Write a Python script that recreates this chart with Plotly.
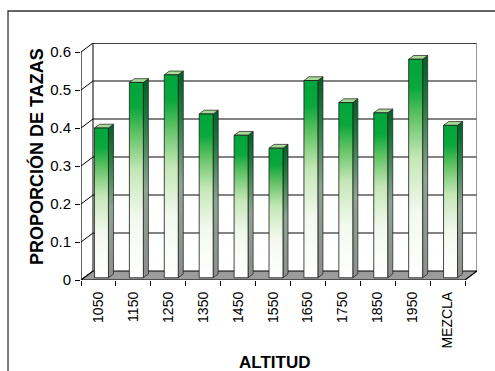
import plotly.graph_objects as go

# Data: proportion of cups by altitude group
categorias = ["1050", "1150", "1250", "1350", "1450", "1550",
              "1650", "1750", "1850", "1950", "MEZCLA"]
proporcion = [0.394, 0.514, 0.534, 0.431, 0.375, 0.341,
              0.519, 0.461, 0.434, 0.575, 0.401]
y_ticks = [0, 0.1, 0.2, 0.3, 0.4, 0.5, 0.6]
y_max = 0.6

# Oblique "3D" projection: depth vector expressed in axis units
n = len(categorias)
DX = 0.3437          # horizontal depth shift (category units)
DY = 0.02368         # vertical depth shift (value units)
D0, D1 = 0.25, 0.67  # bar front / back depth fractions
HW = 0.2             # half bar width

FONT = "Liberation Sans"

fig = go.Figure()


def poly(xs, ys, fill=None, line_color="black", line_width=0.8, grad=None):
    kw = dict(x=list(xs) + [xs[0]], y=list(ys) + [ys[0]], mode="lines",
              fill="toself", line=dict(color=line_color, width=line_width),
              hoverinfo="skip", showlegend=False)
    if grad is not None:
        kw["fillgradient"] = dict(type="vertical", colorscale=grad)
    else:
        kw["fillcolor"] = fill
    fig.add_trace(go.Scatter(**kw))


def seg(x0, y0, x1, y1, color="black", width=1):
    fig.add_trace(go.Scatter(x=[x0, x1], y=[y0, y1], mode="lines",
                             line=dict(color=color, width=width),
                             hoverinfo="skip", showlegend=False))


# Back wall
poly([DX, n + DX, n + DX, DX], [DY, DY, y_max + DY, y_max + DY],
     fill="white", line_color="rgba(0,0,0,0)", line_width=0)

# Gridlines on back wall and side wall
for v in y_ticks[1:-1]:
    seg(DX, v + DY, n + DX, v + DY, color="#5a5a5a", width=1.4)
for v in y_ticks:
    seg(0, v, DX, v + DY, color="black", width=1)
seg(DX, y_max + DY, n + DX, y_max + DY, color="black", width=1.4)
seg(DX, DY, DX, y_max + DY, color="black", width=1)
seg(n + DX, DY, n + DX, y_max + DY, color="#777777", width=1.5)
seg(0, 0, 0, y_max, color="black", width=1.2)

# Floor
poly([0, n, n + DX, DX], [0, 0, DY, DY], fill="#9c9c9c",
     line_color="black", line_width=1.2)

front_scale = [[0, "#ffffff"], [0.3, "#f3f9ef"], [0.55, "#c4e7b6"],
               [0.74, "#5fc263"], [0.87, "#0aa83c"], [1, "#00a53a"]]
side_scale = [[0, "#8e8e8e"], [0.45, "#8ea491"], [0.8, "#1e7a3b"],
              [1, "#00602a"]]

ddx = (D1 - D0) * DX
ddy = (D1 - D0) * DY
for i, v in enumerate(proporcion):
    c = i + 0.5
    x0 = c - HW + D0 * DX
    x1 = c + HW + D0 * DX
    y0 = D0 * DY
    y1 = v + D0 * DY
    # right side face
    poly([x1, x1 + ddx, x1 + ddx, x1], [y0, y0 + ddy, y1 + ddy, y1],
         grad=side_scale, line_color="#1a1a1a", line_width=0.7)
    # top face
    poly([x0, x1, x1 + ddx, x0 + ddx], [y1, y1, y1 + ddy, y1 + ddy],
         fill="#a8da98", line_color="#1a1a1a", line_width=0.7)
    # front face
    poly([x0, x1, x1, x0], [y0, y0, y1, y1],
         grad=front_scale, line_color="#1a1a1a", line_width=0.8)

fig.update_layout(
    width=495, height=371,
    margin=dict(l=81, r=18, t=43, b=91),
    paper_bgcolor="white", plot_bgcolor="white",
    font=dict(family=FONT, color="black", size=13),
    showlegend=False,
    xaxis=dict(range=[0, n + DX], showgrid=False, zeroline=False,
               showline=False, tickmode="array",
               tickvals=[i + 0.5 for i in range(n)], ticktext=categorias,
               tickangle=-90, ticks="", ticklabelstandoff=8,
               tickfont=dict(size=14, family=FONT, color="black"),
               minor=dict(ticks="outside", ticklen=5, tickcolor="black",
                          tickwidth=1, tick0=0, dtick=1, showgrid=False)),
    yaxis=dict(range=[0, y_max + DY], showgrid=False, zeroline=False,
               showline=False, tickmode="array", tickvals=y_ticks,
               ticktext=[f"{t:g}" for t in y_ticks],
               ticks="outside", ticklen=5, tickcolor="black",
               tickfont=dict(size=15, family=FONT, color="black"),
               ticklabelstandoff=1),
    annotations=[
        dict(text="PROPORCIÓN DE TAZAS", textangle=-90,
             xref="paper", x=0, xshift=-44.5, xanchor="center",
             yref="paper", y=0.521, yanchor="middle", showarrow=False,
             font=dict(size=18, weight="bold", family=FONT)),
        dict(text="ALTITUD", xref="paper", x=0.4874, xanchor="center",
             yref="paper", y=0, yshift=-82, yanchor="middle",
             showarrow=False,
             font=dict(size=17, weight="bold", family=FONT)),
    ],
    shapes=[
        dict(type="rect", xref="paper", yref="paper",
             x0=-0.1843, x1=1.06, y0=-0.45, y1=1.135,
             line=dict(color="#333333", width=1.3), layer="below"),
    ],
)

fig.write_html("out.html")
